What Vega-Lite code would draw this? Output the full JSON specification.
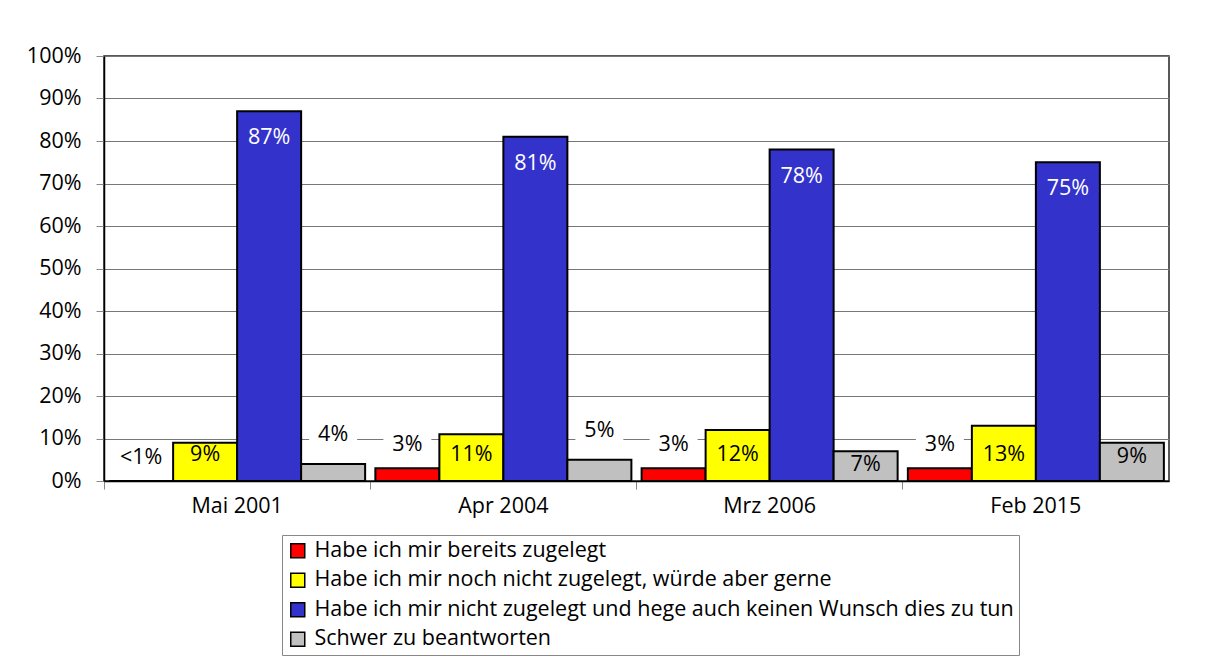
{
  "$schema": "https://vega.github.io/schema/vega-lite/v6.json",
  "width": 1065,
  "height": 425,
  "autosize": {"type": "none"},
  "padding": {"left": 104, "top": 56, "right": 46, "bottom": 187},
  "background": "white",
  "config": {
    "font": "Open Sans",
    "view": {"stroke": "#222", "strokeWidth": 1.5}
  },
  "data": {
    "values": [
      {"date": "Mai 2001", "series": "Habe ich mir bereits zugelegt", "value": 0, "label": "<1%"},
      {"date": "Mai 2001", "series": "Habe ich mir noch nicht zugelegt, würde aber gerne", "value": 9, "label": "9%"},
      {"date": "Mai 2001", "series": "Habe ich mir nicht zugelegt und hege auch keinen Wunsch dies zu tun", "value": 87, "label": "87%"},
      {"date": "Mai 2001", "series": "Schwer zu beantworten", "value": 4, "label": "4%"},
      {"date": "Apr 2004", "series": "Habe ich mir bereits zugelegt", "value": 3, "label": "3%"},
      {"date": "Apr 2004", "series": "Habe ich mir noch nicht zugelegt, würde aber gerne", "value": 11, "label": "11%"},
      {"date": "Apr 2004", "series": "Habe ich mir nicht zugelegt und hege auch keinen Wunsch dies zu tun", "value": 81, "label": "81%"},
      {"date": "Apr 2004", "series": "Schwer zu beantworten", "value": 5, "label": "5%"},
      {"date": "Mrz 2006", "series": "Habe ich mir bereits zugelegt", "value": 3, "label": "3%"},
      {"date": "Mrz 2006", "series": "Habe ich mir noch nicht zugelegt, würde aber gerne", "value": 12, "label": "12%"},
      {"date": "Mrz 2006", "series": "Habe ich mir nicht zugelegt und hege auch keinen Wunsch dies zu tun", "value": 78, "label": "78%"},
      {"date": "Mrz 2006", "series": "Schwer zu beantworten", "value": 7, "label": "7%"},
      {"date": "Feb 2015", "series": "Habe ich mir bereits zugelegt", "value": 3, "label": "3%"},
      {"date": "Feb 2015", "series": "Habe ich mir noch nicht zugelegt, würde aber gerne", "value": 13, "label": "13%"},
      {"date": "Feb 2015", "series": "Habe ich mir nicht zugelegt und hege auch keinen Wunsch dies zu tun", "value": 75, "label": "75%"},
      {"date": "Feb 2015", "series": "Schwer zu beantworten", "value": 9, "label": "9%"}
    ]
  },
  "encoding": {
    "x": {"field": "date", "type": "nominal", "sort": ["Mai 2001", "Apr 2004", "Mrz 2006", "Feb 2015"], "scale": {"paddingInner": 0, "paddingOuter": 0}, "axis": null},
    "xOffset": {"field": "series", "type": "nominal", "sort": ["Habe ich mir bereits zugelegt", "Habe ich mir noch nicht zugelegt, würde aber gerne", "Habe ich mir nicht zugelegt und hege auch keinen Wunsch dies zu tun", "Schwer zu beantworten"], "scale": {"paddingInner": 0, "paddingOuter": 0.08}},
    "y": {"field": "value", "type": "quantitative", "scale": {"domain": [0, 100]},
      "axis": {"title": null, "values": [0, 10, 20, 30, 40, 50, 60, 70, 80, 90, 100], "labelExpr": "datum.value + '%'", "grid": true, "gridColor": "#777", "gridWidth": 1, "domainColor": "black", "domainWidth": 1.5, "tickColor": "#888", "tickSize": 8, "tickWidth": 1, "labelFontSize": 21.5, "labelPadding": 15, "labelColor": "black"}}
  },
  "resolve": {"axis": {"x": "independent"}},
  "layer": [
    {
      "mark": {"type": "bar", "stroke": "black", "strokeWidth": 2},
      "encoding": {
        "x": {"field": "date", "type": "nominal", "sort": ["Mai 2001", "Apr 2004", "Mrz 2006", "Feb 2015"], "scale": {"paddingInner": 0, "paddingOuter": 0},
          "axis": {"title": null, "orient": "bottom", "labels": false, "ticks": true, "bandPosition": 0, "tickSize": 8, "tickColor": "#888", "tickWidth": 1, "domain": true, "domainColor": "black", "domainWidth": 1.5, "grid": false}},
        "color": {
          "field": "series", "type": "nominal",
          "scale": {
            "domain": ["Habe ich mir bereits zugelegt", "Habe ich mir noch nicht zugelegt, würde aber gerne", "Habe ich mir nicht zugelegt und hege auch keinen Wunsch dies zu tun", "Schwer zu beantworten"],
            "range": ["#FF0000", "#FFFF00", "#3333CC", "#C0C0C0"]
          },
          "legend": {
            "orient": "none", "legendX": 178, "legendY": 479, "direction": "vertical",
            "title": null,
            "labelLimit": 1000, "labelFontSize": 21.5, "labelColor": "black", "labelOffset": 6,
            "symbolType": "square", "symbolSize": 196, "symbolStrokeColor": "black", "symbolStrokeWidth": 1.5, "symbolOpacity": 1,
            "padding": 5, "rowPadding": 6.5, "strokeColor": "#888"
          }
        }
      }
    },
    {
      "transform": [{"filter": "datum.series == 'Habe ich mir bereits zugelegt'"}],
      "mark": {"type": "point", "shape": "M-1,-0.5H1V0.5H-1Z", "size": 2304, "filled": true, "fill": "white", "opacity": 1, "strokeWidth": 0, "yOffset": -23}
    },
    {
      "transform": [{"filter": "datum.series == 'Schwer zu beantworten' && datum.value < 6"}],
      "mark": {"type": "point", "shape": "M-1,-0.5H1V0.5H-1Z", "size": 2304, "filled": true, "fill": "white", "opacity": 1, "strokeWidth": 0, "yOffset": -29}
    },
    {
      "transform": [{"filter": "datum.series == 'Habe ich mir bereits zugelegt'"}],
      "mark": {"type": "text", "fontSize": 21.5, "color": "black", "baseline": "middle", "yOffset": -23},
      "encoding": {"text": {"field": "label"}}
    },
    {
      "transform": [{"filter": "datum.series == 'Habe ich mir noch nicht zugelegt, würde aber gerne'"}, {"calculate": "0", "as": "base"}],
      "mark": {"type": "text", "fontSize": 21.5, "color": "black", "baseline": "middle", "yOffset": -26},
      "encoding": {"text": {"field": "label"}, "y": {"field": "base", "type": "quantitative"}}
    },
    {
      "transform": [{"filter": "datum.series == 'Habe ich mir nicht zugelegt und hege auch keinen Wunsch dies zu tun'"}],
      "mark": {"type": "text", "fontSize": 21.5, "color": "white", "baseline": "middle", "yOffset": 27},
      "encoding": {
        "text": {"field": "label"},
        "x": {"field": "date", "type": "nominal", "sort": ["Mai 2001", "Apr 2004", "Mrz 2006", "Feb 2015"], "scale": {"paddingInner": 0, "paddingOuter": 0},
          "axis": {"title": null, "orient": "bottom", "labels": true, "ticks": false, "domain": false, "grid": false, "labelFontSize": 21.5, "labelColor": "black", "labelPadding": 14, "labelAngle": 0}}
      }
    },
    {
      "transform": [{"filter": "datum.series == 'Schwer zu beantworten' && datum.value >= 6"}],
      "mark": {"type": "text", "fontSize": 21.5, "color": "black", "baseline": "middle", "yOffset": 14},
      "encoding": {"text": {"field": "label"}}
    },
    {
      "transform": [{"filter": "datum.series == 'Schwer zu beantworten' && datum.value < 6"}],
      "mark": {"type": "text", "fontSize": 21.5, "color": "black", "baseline": "middle", "yOffset": -29},
      "encoding": {"text": {"field": "label"}}
    }
  ]
}
